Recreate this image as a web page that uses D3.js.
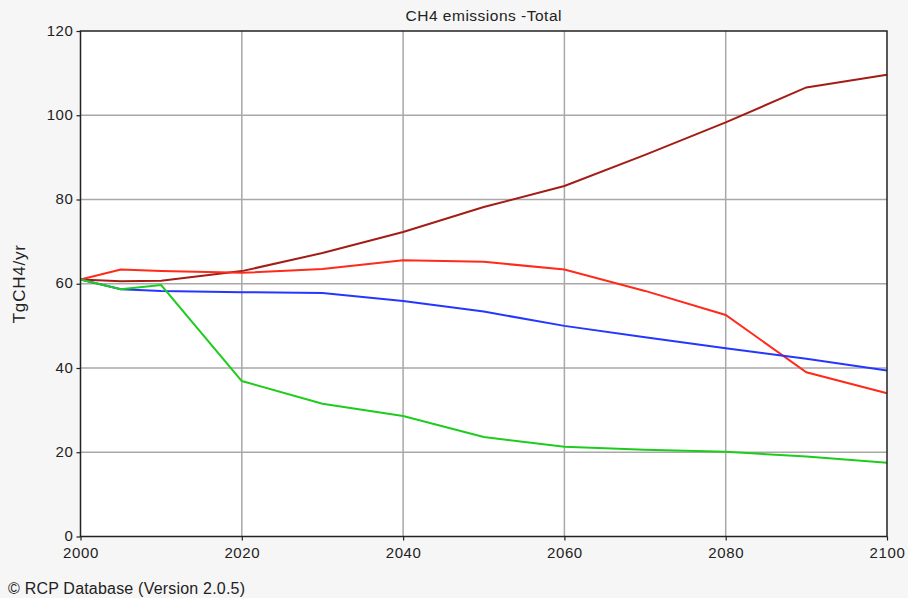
<!DOCTYPE html>
<html lang="en">
<head>
    <meta charset="UTF-8">
    <script src="https://cdn.jsdelivr.net/npm/d3@7"></script>
    <title>CH4 emissions</title>
    <style>
        body { margin: 0; background: #f6f6f6; }
        text { font-family: "Liberation Sans", Arial, sans-serif; fill: #222; }
    </style>
</head>
<body>
<script>
    // years and one series per scenario (TgCH4/yr)
    const years = [2000, 2005, 2010, 2020, 2030, 2040, 2050, 2060, 2070, 2080, 2090, 2100];
    const darkRedSeries = [61.0, 60.6, 60.7, 63.0, 67.3, 72.3, 78.2, 83.2, 90.6, 98.3, 106.6, 109.6];
    const redSeries     = [61.0, 63.4, 63.0, 62.6, 63.5, 65.6, 65.2, 63.4, 58.3, 52.6, 39.0, 34.0];
    const blueSeries    = [61.0, 58.7, 58.3, 58.0, 57.8, 55.9, 53.4, 50.0, 47.3, 44.7, 42.2, 39.4];
    const greenSeries   = [61.0, 58.7, 59.7, 36.9, 31.5, 28.6, 23.6, 21.3, 20.6, 20.1, 19.0, 17.5];
    const xTicks = [2000, 2020, 2040, 2060, 2080, 2100];
    const yTicks = [0, 20, 40, 60, 80, 100, 120];

    const series = [
        { values: darkRedSeries, color: "#a31d16" },
        { values: redSeries, color: "#ff2a1a" },
        { values: blueSeries, color: "#2536ff" },
        { values: greenSeries, color: "#1ecc1e" }
    ];

    const W = 908, H = 598;
    const margin = { top: 31, right: 21, bottom: 61.5, left: 80.5 };

    const svg = d3.select("body").append("svg")
        .attr("width", W)
        .attr("height", H);

    const x = d3.scaleLinear().domain([2000, 2100]).range([margin.left, W - margin.right]);
    const y = d3.scaleLinear().domain([0, 120]).range([H - margin.bottom, margin.top]);

    // plot area
    svg.append("rect")
        .attr("x", x(2000)).attr("y", y(120))
        .attr("width", x(2100) - x(2000)).attr("height", y(0) - y(120))
        .attr("fill", "#fff");

    // grid lines
    svg.append("g").selectAll("line")
        .data(xTicks.slice(1, -1))
        .join("line")
        .attr("x1", d => x(d)).attr("x2", d => x(d))
        .attr("y1", y(0)).attr("y2", y(120))
        .attr("stroke", "#a8a8a8").attr("stroke-width", 1.5);

    svg.append("g").selectAll("line")
        .data(yTicks.slice(1, -1))
        .join("line")
        .attr("x1", x(2000)).attr("x2", x(2100))
        .attr("y1", d => y(d)).attr("y2", d => y(d))
        .attr("stroke", "#a8a8a8").attr("stroke-width", 1.5);

    // series lines
    const line = d3.line()
        .x((d, i) => x(years[i]))
        .y(d => y(d));

    svg.append("g").selectAll("path")
        .data(series)
        .join("path")
        .attr("d", d => line(d.values))
        .attr("fill", "none")
        .attr("stroke", d => d.color)
        .attr("stroke-width", 2);

    // plot frame
    svg.append("rect")
        .attr("x", x(2000)).attr("y", y(120))
        .attr("width", x(2100) - x(2000)).attr("height", y(0) - y(120))
        .attr("fill", "none")
        .attr("stroke", "#222").attr("stroke-width", 1.5);

    // axes
    const xAxis = svg.append("g")
        .attr("transform", `translate(0,${y(0)})`)
        .call(d3.axisBottom(x).tickValues(xTicks).tickFormat(d3.format("d")).tickSize(4));
    const yAxis = svg.append("g")
        .attr("transform", `translate(${x(2000)},0)`)
        .call(d3.axisLeft(y).tickValues(yTicks).tickSize(4));

    [xAxis, yAxis].forEach(a => {
        a.select(".domain").remove();
        a.selectAll(".tick line").attr("stroke", "#222").attr("stroke-width", 1.2);
        a.selectAll(".tick text")
            .attr("font-family", "Liberation Sans, Arial, sans-serif")
            .attr("font-size", 15)
            .attr("letter-spacing", 0.6)
            .attr("fill", "#333");
    });
    xAxis.selectAll(".tick text").attr("y", 10).attr("dy", "0.78em");
    yAxis.selectAll(".tick text").attr("x", -7).attr("dy", "0.27em");

    // title
    svg.append("text")
        .attr("x", (x(2000) + x(2100)) / 2)
        .attr("y", 21)
        .attr("text-anchor", "middle")
        .attr("font-size", 15.5)
        .attr("letter-spacing", 0.5)
        .text("CH4 emissions -Total");

    // y label
    svg.append("text")
        .attr("transform", `translate(25,${(y(0) + y(120)) / 2}) rotate(-90)`)
        .attr("text-anchor", "middle")
        .attr("font-size", 17)
        .attr("letter-spacing", 0.8)
        .text("TgCH4/yr");

    // footer
    svg.append("text")
        .attr("x", 8)
        .attr("y", 594)
        .attr("font-size", 16)
        .attr("letter-spacing", 0.2)
        .text("\u00A9 RCP Database (Version 2.0.5)");
</script>
</body>
</html>
